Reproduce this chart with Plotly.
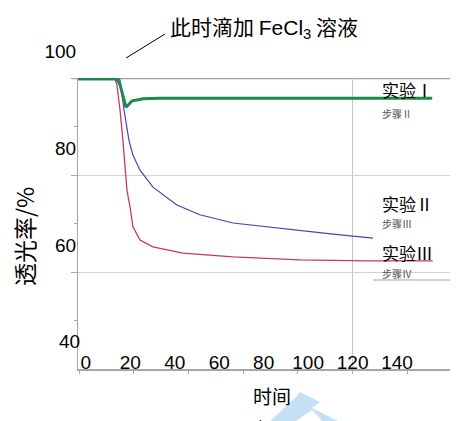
import plotly.graph_objects as go

# ---- data ----
x_ticks = [0, 20, 40, 60, 80, 100, 120, 140]
y_ticks = [40, 60, 80, 100]

time_g = [-3.5, 14.0, 15.4, 16.7, 18.1, 19.4, 20.8, 23.5, 25.7, 33.4, 50, 70, 90, 110, 130, 145, 155.8]
trans_g = [99.8, 99.8, 98.6, 96.1, 94.0, 94.6, 95.3, 95.5, 95.7, 95.8, 95.8, 95.9, 95.8, 95.8, 95.9, 95.8, 95.8]

time_b = [-3.5, 14.5, 15.4, 17.2, 19.4, 21.2, 24.4, 30.2, 41.0, 51.3, 66.2, 88.7, 111.2, 129.1]
trans_b = [99.8, 99.8, 99.6, 93.4, 87.2, 84.1, 81.0, 77.5, 73.8, 71.8, 70.1, 68.9, 67.8, 67.0]

time_r = [-3.5, 13.1, 14.0, 15.4, 16.7, 17.6, 18.5, 19.9, 21.2, 24.4, 30.2, 43.7, 66.2, 96.3, 126.4, 156.0]
trans_r = [99.8, 99.8, 98.6, 93.4, 87.2, 81.0, 76.9, 73.4, 69.3, 66.6, 65.2, 63.9, 63.1, 62.5, 62.3, 62.3]

series_labels = ["实验Ⅰ", "实验Ⅱ", "实验Ⅲ"]
step_labels = ["步骤Ⅱ", "步骤Ⅲ", "步骤Ⅳ"]

NUM_FONT = "Liberation Sans"
CJK_FONT = "Noto Sans CJK SC"

# page body has an 8px margin: size the figure so it fills the 458x421 window
OFF = 8
W, H = 458 - OFF, 421 - OFF
L, R, T, B = 78 - OFF, 0, 78 - OFF, 52


def px(xp):
    return (xp - OFF - L) / (W - L - R)


def py(yp):
    return (H - B - (yp - OFF)) / (H - T - B)


fig = go.Figure()
fig.add_trace(go.Scatter(x=time_r, y=trans_r, mode="lines",
                         line=dict(color="#c83668", width=1.3), showlegend=False))
fig.add_trace(go.Scatter(x=time_b, y=trans_b, mode="lines",
                         line=dict(color="#4146b0", width=1.2), showlegend=False))
fig.add_trace(go.Scatter(x=time_g, y=trans_g, mode="lines",
                         line=dict(color="#1b8a4c", width=3), showlegend=False))
# empty trace to make the secondary tick-mark axis exist
fig.add_trace(go.Scatter(x=[None], y=[None], xaxis="x2", showlegend=False))

fig.update_layout(
    width=W, height=H,
    margin=dict(l=L, r=R, t=T, b=B, pad=0),
    paper_bgcolor="white", plot_bgcolor="white",
    showlegend=False,
    xaxis=dict(range=[-3.5, 167.4], tickvals=x_ticks, ticks="",
               ticklabelposition="inside", ticklabelstandoff=-3,
               tickfont=dict(family=NUM_FONT, size=19, color="black"),
               showline=True, linecolor="#a6a6a6", linewidth=1.5,
               showgrid=False, zeroline=False),
    xaxis2=dict(overlaying="x", anchor="y", side="bottom",
                range=[-0.366, 138.57], tick0=0, dtick=20,
                ticks="outside", ticklen=4, tickcolor="#a6a6a6",
                showticklabels=False, showgrid=False, zeroline=False, showline=False),
    yaxis=dict(range=[40, 100], tickvals=y_ticks, ticks="outside", ticklen=6,
               tickcolor="#a6a6a6",
               minor=dict(tickvals=[50, 70, 90], ticks="outside", ticklen=3,
                          tickcolor="#a6a6a6", showgrid=False),
               ticklabelshift=-27, ticklabelstandoff=-9,
               tickfont=dict(family=NUM_FONT, size=19, color="black"),
               showline=True, linecolor="#a6a6a6", linewidth=1.2,
               showgrid=True, gridcolor="#d2d2d2", gridwidth=1, zeroline=False),
)

# the bottom y label is hidden by plotly next to inside x labels: add it explicitly
fig.add_annotation(xref="paper", yref="y", x=px(82), y=y_ticks[0], yshift=28,
                   xanchor="right", yanchor="middle", showarrow=False,
                   text=str(y_ticks[0]),
                   font=dict(family=NUM_FONT, size=19, color="black"))

# top border line and the single vertical gridline
fig.add_shape(type="line", xref="paper", yref="y", x0=px(72), x1=1, y0=100, y1=100,
              line=dict(color="#a0a0a0", width=2.5), layer="below")
fig.add_shape(type="line", xref="x2", yref="paper", x0=100, x1=100, y0=0, y1=1,
              line=dict(color="#c8c8c8", width=1), layer="below")
# leader line of the callout
fig.add_shape(type="line", xref="paper", yref="paper",
              x0=px(126), y0=py(58), x1=px(165), y1=py(34),
              line=dict(color="black", width=1))
# faint gray bar under the labels
fig.add_shape(type="line", xref="paper", yref="paper",
              x0=px(373), y0=py(280), x1=px(452), y1=py(280),
              line=dict(color="#d0d0d0", width=2))

# light blue watermark fragment at the bottom
wm_pts = [(270, 421), (296, 397), (300, 392), (320, 402), (312, 408),
          (338, 421)]
wm_path = "M " + " L ".join(f"{px(a):.4f},{py(b):.4f}" for a, b in wm_pts) + " Z"
fig.add_shape(type="path", xref="paper", yref="paper", path=wm_path,
              fillcolor="#c4e0f4", line=dict(width=0), layer="below")
wm_cut = [(296, 421), (312, 410), (322, 421)]
cut_path = "M " + " L ".join(f"{px(a):.4f},{py(b):.4f}" for a, b in wm_cut) + " Z"
fig.add_shape(type="path", xref="paper", yref="paper", path=cut_path,
              fillcolor="white", line=dict(width=0), layer="below")

# callout text
fig.add_annotation(xref="paper", yref="paper", x=px(168), y=py(27),
                   xanchor="left", yanchor="middle", showarrow=False,
                   text="此时滴加 <span style='font-family:Liberation Sans;font-size:21px'>FeCl<sub>3</sub></span> 溶液",
                   font=dict(family=CJK_FONT, size=21, color="black"))

# series labels
for lab, yc in zip(series_labels, [90, 203, 252]):
    fig.add_annotation(xref="paper", yref="paper", x=px(407), y=py(yc),
                       xanchor="center", yanchor="middle", showarrow=False,
                       text=lab, font=dict(family=CJK_FONT, size=17, color="black"))
for lab, yc in zip(step_labels, [113, 223, 273]):
    fig.add_annotation(xref="paper", yref="paper", x=px(380), y=py(yc),
                       xanchor="left", yanchor="middle", showarrow=False,
                       text=lab, font=dict(family=CJK_FONT, size=10, color="#555555"))

# axis titles
fig.add_annotation(xref="paper", yref="paper", x=px(24), y=py(237),
                   xanchor="center", yanchor="middle", showarrow=False, textangle=-90,
                   text="透光率/%", font=dict(family=CJK_FONT, size=23, color="black"))
fig.add_annotation(xref="paper", yref="paper", x=px(272), y=py(395),
                   xanchor="center", yanchor="middle", showarrow=False,
                   text="时间", font=dict(family=CJK_FONT, size=19, color="black"))
fig.add_annotation(xref="paper", yref="paper", x=px(262), y=py(426),
                   xanchor="center", yanchor="middle", showarrow=False,
                   text="/s", font=dict(family=CJK_FONT, size=19, color="black"))

fig.write_html("out.html")
